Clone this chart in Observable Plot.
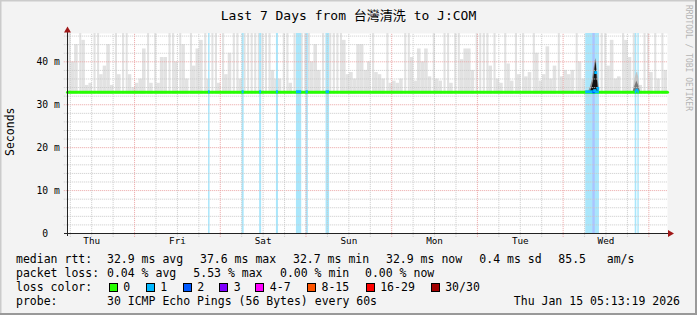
<!DOCTYPE html>
<html><head><meta charset="utf-8">
<script src="https://cdn.jsdelivr.net/npm/d3@7"></script>
<script src="https://cdn.jsdelivr.net/npm/@observablehq/plot@0.6"></script>
<style>
html,body{margin:0;padding:0;background:#f3f3f3;}
#wrap{position:relative;width:697px;height:315px;overflow:hidden;background:#f3f3f3;font-family:"DejaVu Sans Mono",monospace;color:#000;}
#wrap > svg{position:absolute;left:0;top:0;}
.t{position:absolute;white-space:pre;font-size:11.5px;line-height:11.5px;}
.box{position:absolute;width:7px;height:7px;border:1px solid #000;}
</style></head>
<body><div id="wrap"></div>
<script>
// ---- data ----
const startTime = Date.UTC(2026, 0, 8, 5, 13, 19);   // Thu Jan 8 05:13:19
const spanHours = 168;
// hourly upper edge of the smoke (ms)
const smokeTop = [
  47,40,44,47,45,34.5,35,47,47,37,39,44,34.5,47,37,47,47,37,34,35,36,43,47,35,
  47,35,41,41,47,47,40,47,44,36,47,39,43,45,47,36,47,47,35,47,37,42,47,47,
  36,47,47,47,47,47,47,47,47,38,36,36,47,47,35,47,47,47,47,47,40,44,38,47,
  47,47,47,47,47,45,37,37.5,36,44,44,38,40,47,37.5,37,36,47,35,35.5,35,36,47,47,
  41,35.5,43,40,43,36.5,47,36,35.5,47,47,35,47,47,40.5,43,43,38,47,47,47,47,39,47,
  36,35,47,39.5,35.5,47,37,47,36.5,37.5,47,42,35.5,37,43.5,36,39,47,36.5,38,37,38,47,40,
  36,47,47,47,47,47,47,39,45,36,36.5,47,45,41,47,37.5,34.5,47,47,37.5,47,36,47,38
];
const smokeBase = 32.4;
// loss events: start (hours after start), duration (hours), lost pings
const lossStartH = [39.5, 48.9, 53.8, 58.5, 64.1, 66.8, 72.4, 145.1, 147.1, 158.96, 159.7];
const lossDurH   = [0.42, 0.56, 0.56, 0.56, 1.48, 0.64, 0.98, 3.84, 0.67, 0.45, 0.39];
const lossLevel  = [1, 1, 1, 1, 1, 1, 1, 1, 2, 1, 1];
// dense smoke near the Wednesday spike and the later blob
const spikeH     = [145.9, 146.4, 146.9, 147.3, 147.7, 148.0, 148.3, 148.7, 149.0];
const spikeOuter = [33, 34, 35.5, 37.5, 40, 40.8, 38.5, 35, 33];
const spikeInner = [33, 33, 34, 35.5, 38.3, 40.2, 36.3, 33, 33];
const blobH     = [158.4, 158.9, 159.4, 159.9, 160.4];
const blobOuter = [33, 36, 37.7, 36.5, 33];
const blobInner = [33, 34.3, 35.5, 34.5, 33];
// median rtt
const medianH = [0, 168];
const medianV = [32.9, 32.9];
// single median samples inside the spike, with their loss count
const spikeMedH    = [147.6, 147.9, 148.5, 159.4];
const spikeMedV    = [33.3, 37.5, 33.8, 33.4];
const spikeMedLoss = [1, 1, 1, 1];
// legend
const lossLabels = ["0", "1", "2", "3", "4-7", "8-15", "16-29", "30/30"];
const lossColors = ["#26ff00", "#00b8ff", "#0059ff", "#7e00ff", "#ff00ff", "#ff5500", "#ff0000", "#a00000"];
const bandColors = ["#ffffff", "#a9e6fb", "#aac4ff"];
const rttStats  = ["32.9 ms avg", "37.6 ms max", "32.7 ms min", "32.9 ms now", "0.4 ms sd", "85.5   am/s"];
const lossStats = ["0.04 % avg", "5.53 % max", "0.00 % min", "0.00 % now"];
const yTicks = [0, 10, 20, 30, 40];
const titleText = "Last 7 Days from 台灣清洗 to J:COM";
const probeText = "30 ICMP Echo Pings (56 Bytes) every 60s";
const dateText = "Thu Jan 15 05:13:19 2026";

// ---- build ----
const HOUR = 3600e3;
const T = h => new Date(startTime + h * HOUR);
const t0 = T(0), t1 = T(spanHours);
const smoke = smokeTop.map((v, i) => ({a: T(i), b: T(i + 1), v}));
const smokeLow = smoke.filter(d => d.v < 46);
const smokeTall = smoke.filter(d => d.v >= 46);
const loss = lossStartH.map((s, i) => ({a: T(s), b: T(s + lossDurH[i]), lv: lossLevel[i]}));
const spike = spikeH.map((h, i) => ({t: T(h), o: spikeOuter[i], n: spikeInner[i]}));
const blob = blobH.map((h, i) => ({t: T(h), o: blobOuter[i], n: blobInner[i]}));
const median = medianH.map((h, i) => ({t: T(h), v: medianV[i]}));
const spikeMed = spikeMedH.map((h, i) => ({t: T(h), v: spikeMedV[i], lv: spikeMedLoss[i]}));
const yTop = 46.6;
const yMinor = d3.range(2, yTop, 2).filter(v => v % 10 !== 0);
const yMajor = yTicks.filter(v => v > 0);
const xMinor = d3.utcHour.every(6).range(t0, t1).filter(d => d.getUTCHours() !== 0);
const xMajor = d3.utcDay.range(t0, t1);
const dayNoon = d3.utcDay.range(T(-24), t1).map(d => new Date(+d + 12 * HOUR)).filter(d => d >= t0 && d <= t1);

const gridGrey = "#c9c9c9", gridRed = "#eaa3a3";
const chart = Plot.plot({
  width: 697, height: 315,
  marginLeft: 67, marginRight: 30, marginTop: 33, marginBottom: 82,
  x: {type: "utc", domain: [t0, t1], axis: null},
  y: {domain: [0, yTop]},
  style: {background: "transparent", fontFamily: "DejaVu Sans Mono, monospace", overflow: "visible", color: "#000"},
  marks: [
    Plot.frame({fill: "white", stroke: null}),
    Plot.rect(smokeLow, {x1: "a", x2: "b", y1: smokeBase, y2: "v", fill: "#e2e2e2", clip: true}),
    Plot.rect(smokeTall, {x1: "a", x2: "b", y1: smokeBase, y2: "v", insetLeft: 1.5, fill: "#e2e2e2", clip: true}),
    Plot.rect(loss, {x1: "a", x2: "b", y1: 0, y2: yTop, fill: d => bandColors[d.lv]}),
    Plot.areaY(spike, {x: "t", y1: 32.9, y2: "o", fill: "#8f8f8f"}),
    Plot.areaY(spike, {x: "t", y1: 32.9, y2: "n", fill: "#111"}),
    Plot.areaY(blob, {x: "t", y1: 32.9, y2: "o", fill: "#c4c4c4"}),
    Plot.areaY(blob, {x: "t", y1: 32.9, y2: "n", fill: "#777"}),
    Plot.ruleY(yMinor, {x1: () => T(-0.9), x2: () => t1, stroke: gridGrey, strokeDasharray: "1,1"}),
    Plot.ruleY(yMajor, {x1: () => T(-0.9), x2: () => t1, stroke: gridRed, strokeDasharray: "1,1"}),
    Plot.ruleX(xMinor, {y1: -0.9, y2: yTop, stroke: gridGrey, strokeDasharray: "1,1"}),
    Plot.ruleX(xMajor, {y1: -0.9, y2: yTop, stroke: gridRed, strokeDasharray: "1,1"}),
    Plot.line(median, {x: "t", y: "v", stroke: lossColors[0], strokeWidth: 3}),
    Plot.rect(loss, {x1: "a", x2: "b", y1: 32.55, y2: 33.25, fill: d => lossColors[d.lv]}),
    Plot.dot(spikeMed, {x: "t", y: "v", symbol: "square", r: 1.6, fill: d => lossColors[d.lv], stroke: null}),
    Plot.ruleY([0], {x1: () => T(-0.84), x2: () => T(spanHours + 0.3), stroke: "#222"}),
    Plot.ruleX([t0], {y1: -0.7, y2: yTop + 0.3, stroke: "#222"}),
    Plot.axisY({ticks: yTicks, tickSize: 0, tickPadding: 7.7, fontSize: 9.7, fill: "#000",
      tickFormat: d => d === 0 ? "0\u00a0\u00a0" : d + " m"}),
    Plot.text(dayNoon, {x: d => d, frameAnchor: "bottom", dy: 10, text: d3.utcFormat("%a"), fontSize: 9.3, fill: "#000"})
  ]
});
const wrap = document.getElementById("wrap");
wrap.append(chart);

// arrows (axis decorations)
const deco = d3.select(wrap).append("svg").attr("width", 697).attr("height", 315)
  .style("position", "absolute").style("left", 0).style("top", 0);
deco.append("path").attr("d", "M64,32.5L67.5,26.5L71,32.5Z").attr("fill", "#a01818");
deco.append("path").attr("d", "M668,230L674,233.5L668,237Z").attr("fill", "#a01818");
// 3D frame
deco.append("rect").attr("x", 0).attr("y", 0).attr("width", 697).attr("height", 1.5).attr("fill", "#cbcbcb");
deco.append("rect").attr("x", 0).attr("y", 0).attr("width", 1.5).attr("height", 315).attr("fill", "#cbcbcb");
deco.append("rect").attr("x", 695).attr("y", 0).attr("width", 2).attr("height", 315).attr("fill", "#999");
deco.append("rect").attr("x", 0).attr("y", 313).attr("width", 697).attr("height", 2).attr("fill", "#999");

function txt(s, left, baseline, extra = {}) {
  const d = document.createElement("div");
  d.className = "t";
  d.textContent = s;
  const fs = extra.fs || 11.5;
  d.style.fontSize = fs + "px";
  d.style.lineHeight = fs + "px";
  d.style.top = (baseline - 0.846 * fs) + "px";
  if (extra.right != null) { d.style.right = extra.right + "px"; }
  else if (extra.center) { d.style.left = "0px"; d.style.width = "697px"; d.style.textAlign = "center"; }
  else d.style.left = left + "px";
  if (extra.css) Object.assign(d.style, extra.css);
  wrap.append(d);
  return d;
}
// title
txt(titleText, 0, 19.5, {fs: 13, center: true, css: {fontFamily: '"DejaVu Sans Mono","Noto Sans CJK TC",monospace'}});
// y label
txt("Seconds", 0, 0, {css: {left: "-39px", top: "126px", width: "100px", textAlign: "center", transform: "rotate(-90deg)"}});
// watermark
txt("RRDTOOL / TOBI OETIKER", 0, 0, {fs: 8, css: {left: "684px", top: "5px", writingMode: "vertical-rl", color: "#b3b3b3", fontSize: "8px"}});

// legend rows
const rowBase = [263.3, 277.3, 291.3, 305.3];
txt("median rtt:", 16, rowBase[0]);
const rttX = [107, 200, 293, 386, 479.3, 558.3];
rttStats.forEach((s, i) => txt(s, rttX[i], rowBase[0]));
txt("packet loss:", 16, rowBase[1]);
const lossX = [107, 193.3, 280, 365];
lossStats.forEach((s, i) => txt(s, lossX[i], rowBase[1]));
txt("loss color:", 16, rowBase[2]);
const boxX = [108.7, 145.7, 182.7, 219.3, 255.3, 307, 365.7, 430.7];
lossLabels.forEach((s, i) => {
  const b = document.createElement("div");
  b.className = "box";
  b.style.left = boxX[i] + "px";
  b.style.top = (rowBase[2] - 8.5) + "px";
  b.style.background = lossColors[i];
  wrap.append(b);
  txt(s, boxX[i] + 14.5, rowBase[2]);
});
txt("probe:", 16, rowBase[3]);
txt(probeText, 107, rowBase[3]);
txt(dateText, 0, rowBase[3], {right: 17});
</script></body></html>
